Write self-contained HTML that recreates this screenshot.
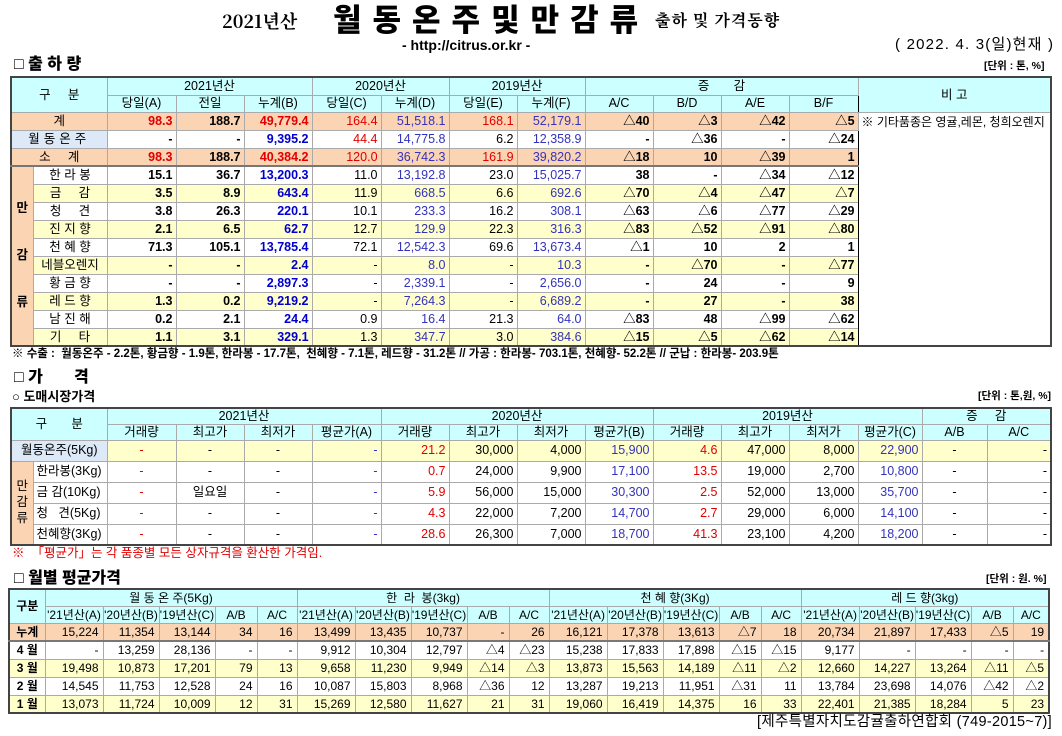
<!DOCTYPE html>
<html><head><meta charset="utf-8">
<style>
*{margin:0;padding:0;box-sizing:border-box}
body{width:1062px;height:736px;background:#fff;position:relative;overflow:hidden;font-family:"Liberation Sans","Noto Sans CJK KR",sans-serif;color:#000}
.a{position:absolute;white-space:nowrap;line-height:1}
table{position:absolute;border-collapse:collapse;table-layout:fixed;font-size:12.5px;border:2px solid #444}
td{border:1px solid #aaa;padding:0 3px;line-height:1;overflow:hidden;white-space:nowrap;text-align:right}
td.c{text-align:center}
.h td{background:#ccffff;text-align:center}
.pk td{background:#fbd4b4}
.yl td{background:#ffffcc}
.lb{background:#dde9f7!important;text-align:center}
.side{background:#fbd4b4!important;text-align:center;font-weight:bold;white-space:normal;line-height:1.25}
.b{font-weight:bold}
.r{color:#e00000}
.u{color:#0000cc}
.p{color:#3333bb}
.gl{border-left:1px solid #000}
.tk td{border-bottom:2px solid #777}
.t3 td{font-size:12px;padding:0 4px}
</style></head><body>

<div class="a" style="left:222px;top:12px;font-family:'Noto Serif CJK SC','Liberation Serif',serif;font-weight:bold;font-size:18px">2021년산</div>
<div class="a" style="left:333px;top:5px;font-weight:900;font-size:31px;letter-spacing:11px">월동온주및만감류</div>
<div class="a" style="left:655px;top:12px;font-family:'Noto Serif CJK SC',serif;font-weight:bold;font-size:16px;letter-spacing:1px">출하 및 가격동향</div>
<div class="a" style="left:402px;top:38px;font-weight:bold;font-size:14px">- http://citrus.or.kr -</div>
<div class="a" style="left:895px;top:37px;font-size:15px;letter-spacing:1.2px">( 2022. 4. 3(일)현재 )</div>

<div class="a" style="left:14px;top:57px;font-weight:900;font-size:16px">□ 출 하 량</div>
<div class="a" style="left:984px;top:61px;font-size:10.5px;font-weight:bold">[단위 : 톤, %]</div>

<table style="left:10px;top:76px;width:1040px">
<colgroup><col style="width:22px"><col style="width:74px"><col style="width:69px"><col style="width:68px"><col style="width:68px"><col style="width:69px"><col style="width:68px"><col style="width:68px"><col style="width:68px"><col style="width:68px"><col style="width:68px"><col style="width:68px"><col style="width:69px"><col style="width:193px"></colgroup>
<tr class="h" style="height:18px"><td colspan="2" rowspan="2">구 &nbsp; &nbsp; 분</td><td colspan="3" class="gl">2021년산</td><td colspan="2" class="gl">2020년산</td><td colspan="2" class="gl">2019년산</td><td colspan="4" class="gl">증 &nbsp; &nbsp; &nbsp; 감</td><td rowspan="2" class="gl">비 고</td></tr>
<tr class="h" style="height:17px"><td class="gl">당일(A)</td><td>전일</td><td>누계(B)</td><td class="gl">당일(C)</td><td>누계(D)</td><td class="gl">당일(E)</td><td>누계(F)</td><td class="gl">A/C</td><td>B/D</td><td>A/E</td><td>B/F</td></tr>
<tr class="pk" style="height:18px"><td colspan="2" class="c">계</td><td class="b r gl">98.3</td><td class="b">188.7</td><td class="b r">49,779.4</td><td class="r gl">164.4</td><td class="p">51,518.1</td><td class="r gl">168.1</td><td class="p">52,179.1</td><td class="b gl">△40</td><td class="b">△3</td><td class="b">△42</td><td class="b">△5</td><td rowspan="13" style="background:#fff;text-align:left;vertical-align:top;padding-top:3px;font-size:12px" class="gl">※ 기타품종은 영귤,레몬, 청희오렌지</td></tr>
<tr style="height:18px"><td colspan="2" class="lb" style="letter-spacing:4px">월동온주</td><td class="b gl">-</td><td class="b">-</td><td class="b u">9,395.2</td><td class="r gl">44.4</td><td class="p">14,775.8</td><td class="gl">6.2</td><td class="p">12,358.9</td><td class="b gl">-</td><td class="b">△36</td><td class="b">-</td><td class="b">△24</td></tr>
<tr class="pk tk" style="height:18px"><td colspan="2" class="c">소 &nbsp; &nbsp; 계</td><td class="b r gl">98.3</td><td class="b">188.7</td><td class="b r">40,384.2</td><td class="r gl">120.0</td><td class="p">36,742.3</td><td class="r gl">161.9</td><td class="p">39,820.2</td><td class="b gl">△18</td><td class="b">10</td><td class="b">△39</td><td class="b">1</td></tr>
<tr style="height:18px"><td rowspan="10" class="side">만<br><br><br>감<br><br><br>류</td><td class="c">한 라 봉</td><td class="b gl">15.1</td><td class="b">36.7</td><td class="b u">13,200.3</td><td class="gl">11.0</td><td class="p">13,192.8</td><td class="gl">23.0</td><td class="p">15,025.7</td><td class="b gl">38</td><td class="b">-</td><td class="b">△34</td><td class="b">△12</td></tr>
<tr class="yl" style="height:18px"><td class="c">금 &nbsp; &nbsp; 감</td><td class="b gl">3.5</td><td class="b">8.9</td><td class="b u">643.4</td><td class="gl">11.9</td><td class="p">668.5</td><td class="gl">6.6</td><td class="p">692.6</td><td class="b gl">△70</td><td class="b">△4</td><td class="b">△47</td><td class="b">△7</td></tr>
<tr style="height:18px"><td class="c">청 &nbsp; &nbsp; 견</td><td class="b gl">3.8</td><td class="b">26.3</td><td class="b u">220.1</td><td class="gl">10.1</td><td class="p">233.3</td><td class="gl">16.2</td><td class="p">308.1</td><td class="b gl">△63</td><td class="b">△6</td><td class="b">△77</td><td class="b">△29</td></tr>
<tr class="yl" style="height:18px"><td class="c">진 지 향</td><td class="b gl">2.1</td><td class="b">6.5</td><td class="b u">62.7</td><td class="gl">12.7</td><td class="p">129.9</td><td class="gl">22.3</td><td class="p">316.3</td><td class="b gl">△83</td><td class="b">△52</td><td class="b">△91</td><td class="b">△80</td></tr>
<tr style="height:18px"><td class="c">천 혜 향</td><td class="b gl">71.3</td><td class="b">105.1</td><td class="b u">13,785.4</td><td class="gl">72.1</td><td class="p">12,542.3</td><td class="gl">69.6</td><td class="p">13,673.4</td><td class="b gl">△1</td><td class="b">10</td><td class="b">2</td><td class="b">1</td></tr>
<tr class="yl" style="height:18px"><td class="c">네블오렌지</td><td class="b gl">-</td><td class="b">-</td><td class="b u">2.4</td><td class="gl">-</td><td class="p">8.0</td><td class="gl">-</td><td class="p">10.3</td><td class="b gl">-</td><td class="b">△70</td><td class="b">-</td><td class="b">△77</td></tr>
<tr style="height:18px"><td class="c">황 금 향</td><td class="b gl">-</td><td class="b">-</td><td class="b u">2,897.3</td><td class="gl">-</td><td class="p">2,339.1</td><td class="gl">-</td><td class="p">2,656.0</td><td class="b gl">-</td><td class="b">24</td><td class="b">-</td><td class="b">9</td></tr>
<tr class="yl" style="height:18px"><td class="c">레 드 향</td><td class="b gl">1.3</td><td class="b">0.2</td><td class="b u">9,219.2</td><td class="gl">-</td><td class="p">7,264.3</td><td class="gl">-</td><td class="p">6,689.2</td><td class="b gl">-</td><td class="b">27</td><td class="b">-</td><td class="b">38</td></tr>
<tr style="height:18px"><td class="c">남 진 해</td><td class="b gl">0.2</td><td class="b">2.1</td><td class="b u">24.4</td><td class="gl">0.9</td><td class="p">16.4</td><td class="gl">21.3</td><td class="p">64.0</td><td class="b gl">△83</td><td class="b">48</td><td class="b">△99</td><td class="b">△62</td></tr>
<tr class="yl" style="height:18px"><td class="c">기 &nbsp; &nbsp; 타</td><td class="b gl">1.1</td><td class="b">3.1</td><td class="b u">329.1</td><td class="gl">1.3</td><td class="p">347.7</td><td class="gl">3.0</td><td class="p">384.6</td><td class="b gl">△15</td><td class="b">△5</td><td class="b">△62</td><td class="b">△14</td></tr>
</table>

<div class="a" style="left:12px;top:349px;font-size:11.5px;font-weight:bold">※ 수출 : &nbsp;월동온주 - 2.2톤, 황금향 - 1.9톤, 한라봉 - 17.7톤, &nbsp;천혜향 - 7.1톤, 레드향 - 31.2톤 // 가공 : 한라봉- 703.1톤, 천혜향- 52.2톤 // 군납 : 한라봉- 203.9톤</div>

<div class="a" style="left:14px;top:370px;font-weight:900;font-size:16px">□ 가 &nbsp; &nbsp; &nbsp; 격</div>
<div class="a" style="left:12px;top:390px;font-weight:bold;font-size:13px">○ 도매시장가격</div>
<div class="a" style="left:978px;top:391px;font-size:10.5px;font-weight:bold">[단위 : 톤,원, %]</div>

<table style="left:10px;top:407px;width:1040px">
<colgroup><col style="width:22px"><col style="width:74px"><col style="width:69px"><col style="width:68px"><col style="width:68px"><col style="width:69px"><col style="width:68px"><col style="width:68px"><col style="width:68px"><col style="width:68px"><col style="width:68px"><col style="width:68px"><col style="width:69px"><col style="width:64px"><col style="width:65px"><col style="width:64px"></colgroup>
<tr class="h" style="height:16px"><td colspan="2" rowspan="2">구 &nbsp; &nbsp; &nbsp; 분</td><td colspan="4" class="gl">2021년산</td><td colspan="4" class="gl">2020년산</td><td colspan="4" class="gl">2019년산</td><td colspan="2" class="gl">증 &nbsp; &nbsp; 감</td></tr>
<tr class="h" style="height:16px"><td class="gl">거래량</td><td>최고가</td><td>최저가</td><td>평균가(A)</td><td class="gl">거래량</td><td>최고가</td><td>최저가</td><td>평균가(B)</td><td class="gl">거래량</td><td>최고가</td><td>최저가</td><td>평균가(C)</td><td class="gl">A/B</td><td style="border-left:1px dotted #333">A/C</td></tr>
<tr class="yl" style="height:21px"><td colspan="2" class="lb">월동온주(5Kg)</td><td class="r gl" style="text-align:center">-</td><td class="c">-</td><td class="c">-</td><td class="p">-</td><td class="r gl">21.2</td><td>30,000</td><td>4,000</td><td class="p">15,900</td><td class="r gl">4.6</td><td>47,000</td><td>8,000</td><td class="p">22,900</td><td class="gl c">-</td><td style="border-left:1px dotted #333">-</td></tr>
<tr style="height:21px"><td rowspan="4" class="side" style="font-weight:normal">만<br>감<br>류</td><td style="text-align:left">한라봉(3Kg)</td><td class="r gl c">-</td><td class="c">-</td><td class="c">-</td><td class="p">-</td><td class="r gl">0.7</td><td>24,000</td><td>9,900</td><td class="p">17,100</td><td class="r gl">13.5</td><td>19,000</td><td>2,700</td><td class="p">10,800</td><td class="gl c">-</td><td style="border-left:1px dotted #333">-</td></tr>
<tr style="height:21px"><td style="text-align:left">금 감(10Kg)</td><td class="r gl c">-</td><td class="c">일요일</td><td class="c">-</td><td class="p">-</td><td class="r gl">5.9</td><td>56,000</td><td>15,000</td><td class="p">30,300</td><td class="r gl">2.5</td><td>52,000</td><td>13,000</td><td class="p">35,700</td><td class="gl c">-</td><td style="border-left:1px dotted #333">-</td></tr>
<tr style="height:21px"><td style="text-align:left">청 &nbsp; 견(5Kg)</td><td class="r gl c">-</td><td class="c">-</td><td class="c">-</td><td class="p">-</td><td class="r gl">4.3</td><td>22,000</td><td>7,200</td><td class="p">14,700</td><td class="r gl">2.7</td><td>29,000</td><td>6,000</td><td class="p">14,100</td><td class="gl c">-</td><td style="border-left:1px dotted #333">-</td></tr>
<tr style="height:21px"><td style="text-align:left">천혜향(3Kg)</td><td class="r gl c">-</td><td class="c">-</td><td class="c">-</td><td class="p">-</td><td class="r gl">28.6</td><td>26,300</td><td>7,000</td><td class="p">18,700</td><td class="r gl">41.3</td><td>23,100</td><td>4,200</td><td class="p">18,200</td><td class="gl c">-</td><td style="border-left:1px dotted #333">-</td></tr>
</table>

<div class="a" style="left:12px;top:547px;font-size:12.5px;color:#e00000">※ &nbsp;「평균가」는 각 품종별 모든 상자규격을 환산한 가격임.</div>

<div class="a" style="left:14px;top:571px;font-weight:900;font-size:16px">□ 월별 평균가격</div>
<div class="a" style="left:986px;top:574px;font-size:10.5px;font-weight:bold">[단위 : 원. %]</div>

<table class="t3" style="left:8px;top:588px;width:1042px">
<colgroup><col style="width:36px"><col style="width:58px"><col style="width:56px"><col style="width:56px"><col style="width:42px"><col style="width:40px"><col style="width:58px"><col style="width:56px"><col style="width:56px"><col style="width:42px"><col style="width:40px"><col style="width:58px"><col style="width:56px"><col style="width:56px"><col style="width:42px"><col style="width:40px"><col style="width:58px"><col style="width:56px"><col style="width:56px"><col style="width:42px"><col style="width:36px"></colgroup>
<tr class="h" style="height:17px"><td rowspan="2" class="b">구분</td><td colspan="5" class="gl">월 동 온 주(5Kg)</td><td colspan="5" class="gl">한 &nbsp;라 &nbsp;봉(3kg)</td><td colspan="5" class="gl">천 혜 향(3Kg)</td><td colspan="5" class="gl">레 드 향(3kg)</td></tr>
<tr class="h" style="height:17px;font-size:11px"><td class="gl" style="padding:0">'21년산(A)</td><td style="padding:0">'20년산(B)</td><td style="padding:0">'19년산(C)</td><td>A/B</td><td>A/C</td><td class="gl" style="padding:0">'21년산(A)</td><td style="padding:0">'20년산(B)</td><td style="padding:0">'19년산(C)</td><td>A/B</td><td>A/C</td><td class="gl" style="padding:0">'21년산(A)</td><td style="padding:0">'20년산(B)</td><td style="padding:0">'19년산(C)</td><td>A/B</td><td>A/C</td><td class="gl" style="padding:0">'21년산(A)</td><td style="padding:0">'20년산(B)</td><td style="padding:0">'19년산(C)</td><td>A/B</td><td>A/C</td></tr>
<tr class="pk tk" style="height:18px"><td class="c b">누계</td><td class="gl">15,224</td><td>11,354</td><td>13,144</td><td>34</td><td>16</td><td class="gl">13,499</td><td>13,435</td><td>10,737</td><td>-</td><td>26</td><td class="gl">16,121</td><td>17,378</td><td>13,613</td><td>△7</td><td>18</td><td class="gl">20,734</td><td>21,897</td><td>17,433</td><td>△5</td><td>19</td></tr>
<tr style="height:18px"><td class="c b">4 월</td><td class="gl">-</td><td>13,259</td><td>28,136</td><td>-</td><td>-</td><td class="gl">9,912</td><td>10,304</td><td>12,797</td><td>△4</td><td>△23</td><td class="gl">15,238</td><td>17,833</td><td>17,898</td><td>△15</td><td>△15</td><td class="gl">9,177</td><td>-</td><td>-</td><td>-</td><td>-</td></tr>
<tr class="yl" style="height:18px"><td class="c b">3 월</td><td class="gl">19,498</td><td>10,873</td><td>17,201</td><td>79</td><td>13</td><td class="gl">9,658</td><td>11,230</td><td>9,949</td><td>△14</td><td>△3</td><td class="gl">13,873</td><td>15,563</td><td>14,189</td><td>△11</td><td>△2</td><td class="gl">12,660</td><td>14,227</td><td>13,264</td><td>△11</td><td>△5</td></tr>
<tr style="height:18px"><td class="c b">2 월</td><td class="gl">14,545</td><td>11,753</td><td>12,528</td><td>24</td><td>16</td><td class="gl">10,087</td><td>15,803</td><td>8,968</td><td>△36</td><td>12</td><td class="gl">13,287</td><td>19,213</td><td>11,951</td><td>△31</td><td>11</td><td class="gl">13,784</td><td>23,698</td><td>14,076</td><td>△42</td><td>△2</td></tr>
<tr class="yl" style="height:18px"><td class="c b">1 월</td><td class="gl">13,073</td><td>11,724</td><td>10,009</td><td>12</td><td>31</td><td class="gl">15,269</td><td>12,580</td><td>11,627</td><td>21</td><td>31</td><td class="gl">19,060</td><td>16,419</td><td>14,375</td><td>16</td><td>33</td><td class="gl">22,401</td><td>21,385</td><td>18,284</td><td>5</td><td>23</td></tr>
</table>

<div class="a" style="left:757px;top:715px;font-size:14.5px;letter-spacing:0.3px">[제주특별자치도감귤출하연합회 (749-2015~7)]</div>
</body></html>
